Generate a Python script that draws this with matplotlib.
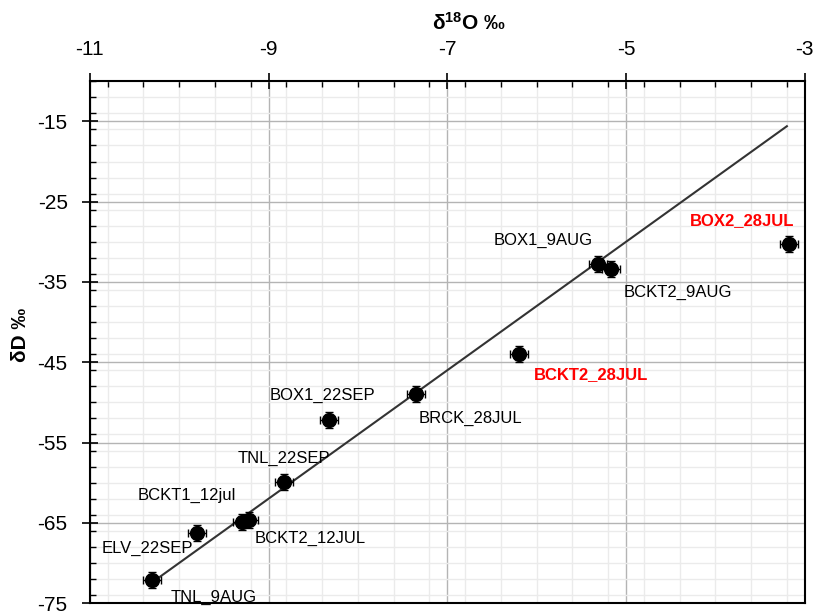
import numpy as np
import matplotlib
matplotlib.use("Agg")
import matplotlib.pyplot as plt
from matplotlib.ticker import MultipleLocator

plt.rcParams['font.family'] = ['Liberation Sans', 'DejaVu Sans']
plt.rcParams['mathtext.fontset'] = 'custom'
plt.rcParams['mathtext.bf'] = 'Liberation Sans:bold'
plt.rcParams['mathtext.rm'] = 'Liberation Sans'
plt.rcParams['axes.unicode_minus'] = False

# isotope data (permil VSMOW)
samples = ["TNL_9AUG", "ELV_22SEP", "BCKT1_12jul", "BCKT2_12JUL", "TNL_22SEP",
           "BOX1_22SEP", "BRCK_28JUL", "BCKT2_28JUL", "BOX1_9AUG",
           "BCKT2_9AUG", "BOX2_28JUL"]
d18o = [-10.30, -9.80, -9.30, -9.22, -8.83, -8.32, -7.35, -6.20, -5.31, -5.17, -3.18]
dD = [-72.1, -66.3, -64.9, -64.7, -59.9, -52.2, -48.9, -44.0, -32.8, -33.4, -30.3]
d18o_err = [0.1] * len(samples)
dD_err = [1.0] * len(samples)
highlight = ["BCKT2_28JUL", "BOX2_28JUL"]

x_ticks = [-11, -9, -7, -5, -3]
y_ticks = [-75, -65, -55, -45, -35, -25, -15]

# global meteoric water line: dD = 8*d18O + 10
gmwl_slope, gmwl_icpt = 8.0, 10.0
gmwl_x = [-10.25, -3.2]

# label offsets (points) and alignment
label_pos = {
    "TNL_9AUG": (13, -13, 'left'),
    "ELV_22SEP": (-3, -11, 'right'),
    "BCKT1_12jul": (-4, 19, 'right'),
    "BCKT2_12JUL": (4, -13, 'left'),
    "TNL_22SEP": (0, 17, 'center'),
    "BOX1_22SEP": (-5, 18, 'center'),
    "BRCK_28JUL": (2, -18, 'left'),
    "BCKT2_28JUL": (11, -15, 'left'),
    "BOX1_9AUG": (-4, 17, 'right'),
    "BCKT2_9AUG": (9, -17, 'left'),
    "BOX2_28JUL": (4, 17, 'right'),
}

fig = plt.figure(figsize=(8.17, 6.11), dpi=100)
ax = fig.add_axes([0.110, 0.013, 0.875, 0.854])

ax.set_xlim(-11, -3)
ax.set_ylim(-75, -10)
ax.set_xticks(x_ticks)
ax.xaxis.set_minor_locator(MultipleLocator(0.4))
ax.set_yticks(y_ticks)
ax.yaxis.set_minor_locator(MultipleLocator(2))

ax.grid(which='major', color='#b4b4b4', lw=1.0)
ax.grid(which='minor', color='#ebebeb', lw=1.0)
ax.set_axisbelow(True)

ax.xaxis.tick_top()
ax.xaxis.set_label_position('top')
ax.tick_params(which='major', direction='inout', length=12, width=1.2,
               labelsize=15, pad=10)
ax.tick_params(which='minor', direction='in', length=4, width=1.0)
ax.tick_params(axis='x', which='both', bottom=False, top=True)
ax.tick_params(axis='y', which='both', right=False, left=True)
for s in ax.spines.values():
    s.set_linewidth(1.5)

gx = np.array(gmwl_x)
ax.plot(gx, gmwl_slope * gx + gmwl_icpt, color='#333333', lw=1.5, zorder=2)

ax.errorbar(d18o, dD, xerr=d18o_err, yerr=dD_err, fmt='o', color='black',
            ms=10, ecolor='black', elinewidth=1.0, capsize=3, capthick=1.0,
            zorder=3)

for name, x, y in zip(samples, d18o, dD):
    dx, dy, ha = label_pos[name]
    if name in highlight:
        kw = dict(color='red', fontweight='bold')
    else:
        kw = dict(color='black')
    ax.annotate(name, (x, y), xytext=(dx, dy), textcoords='offset points',
                ha=ha, va='center', fontsize=12, **kw)

ax.set_xlabel(r'δ$\mathbf{^{18}}$O ‰', fontsize=15, fontweight='bold')
ax.xaxis.set_label_coords(0.531, 1.098)
ax.set_ylabel('δD ‰', fontsize=15, fontweight='bold')
ax.yaxis.set_label_coords(-0.084, 0.513)

fig.savefig("out.png", dpi=100)
